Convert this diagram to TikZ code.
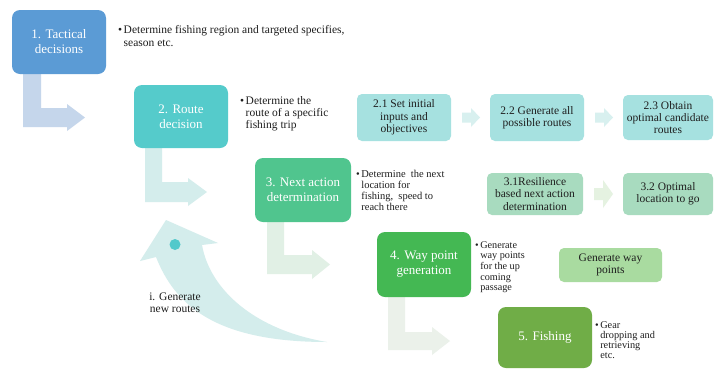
\documentclass[tikz,border=0pt]{standalone}
\usepackage{fontspec}
\setmainfont{Liberation Serif}
\definecolor{cA}{HTML}{5B9BD5}
\definecolor{arA}{HTML}{C5D6EB}
\definecolor{cB}{HTML}{55CBCB}
\definecolor{subB}{HTML}{A6E1E0}
\definecolor{arB}{HTML}{D4EDEC}
\definecolor{arBs}{HTML}{D8F0EF}
\definecolor{cC}{HTML}{50C58E}
\definecolor{subC}{HTML}{A8DBBF}
\definecolor{arC}{HTML}{E1F0E5}
\definecolor{arCs}{HTML}{E5F2E1}
\definecolor{cD}{HTML}{44B853}
\definecolor{subD}{HTML}{A9DBA0}
\definecolor{arD}{HTML}{EBF1EA}
\definecolor{cE}{HTML}{70AD47}
\definecolor{dotc}{HTML}{52C9CB}
\definecolor{txt}{HTML}{1E1E1E}
\newcommand{\bl}[1]{\begin{tabular}[t]{@{}l@{\hspace{1.5pt}}l@{}}#1\end{tabular}}
\begin{document}
\begin{tikzpicture}[x=1pt,y=-1pt,
  mainbox/.style={rounded corners=8pt, text=white, align=center, inner sep=0pt, font=\fontsize{13}{15}\selectfont},
  subbox/.style={rounded corners=5pt, text=txt, align=center, inner sep=0pt, font=\fontsize{11.5}{12.3}\selectfont},
  note/.style={anchor=base west, inner sep=0pt, text=txt},
]
\useasboundingbox (0,0) rectangle (714,370);
\fill[white] (0,0) rectangle (714,370);

% bent block arrows
\fill[arA] (23,73) -- (41,73) -- (41,108) -- (67,108) -- (67,104) -- (85,117.5) -- (67,131) -- (67,127) -- (23,127) -- cycle;
\fill[arB] (145,147) -- (162,147) -- (162,182) -- (188,182) -- (188,178) -- (207,192) -- (188,206) -- (188,202) -- (145,202) -- cycle;
\fill[arC] (267,221) -- (284,221) -- (284,255) -- (312,255) -- (312,250) -- (330,264.5) -- (312,279) -- (312,274) -- (267,274) -- cycle;
\fill[arD] (388,296) -- (405,296) -- (405,332) -- (432,332) -- (432,327) -- (450,341) -- (432,355) -- (432,350) -- (388,350) -- cycle;

% small right arrows
\fill[arBs] (462,112.5) -- (471,112.5) -- (471,108) -- (480,117.5) -- (471,127) -- (471,122.5) -- (462,122.5) -- cycle;
\fill[arBs] (595,112.5) -- (604,112.5) -- (604,108) -- (613,117.5) -- (604,127) -- (604,122.5) -- (595,122.5) -- cycle;
\fill[arCs] (594,188) -- (603,188) -- (603,180) -- (613,194) -- (603,208) -- (603,200) -- (594,200) -- cycle;

% curved feedback arrow
\fill[arB] (166,220) -- (218,243) -- (202,245) .. controls (210,290) and (255,330) .. (327,342)
  .. controls (215,342) and (175,305) .. (156,257) -- (140,261) -- cycle;
\fill[dotc] (175,244.5) circle (5.5);
\node[inner sep=0pt, align=center, text=txt, font=\fontsize{11.5}{12}\selectfont, anchor=base] (lab) at (175,312) {i. Generate\\new routes};

% main boxes
\node[mainbox, fill=cA, minimum width=94pt, minimum height=64pt] (b1) at (59,42) {1. Tactical\\decisions};
\node[mainbox, fill=cB, minimum width=94pt, minimum height=63pt] (b2) at (181,116.5) {2. Route\\decision};
\node[mainbox, fill=cC, minimum width=96pt, minimum height=64pt] (b3) at (303,190) {3. Next action\\determination};
\node[mainbox, fill=cD, minimum width=94pt, minimum height=65pt] (b4) at (424,264.5) {4. Way point\\generation};
\node[mainbox, fill=cE, minimum width=94pt, minimum height=61pt] (b5) at (545,337.5) {5. Fishing};

% sub boxes
\node[subbox, fill=subB, minimum width=94pt, minimum height=47pt] (s21) at (404,117.5) {2.1 Set initial\\inputs and\\objectives};
\node[subbox, fill=subB, minimum width=94pt, minimum height=47pt] (s22) at (537,117.5) {2.2 Generate all\\possible routes};
\node[subbox, fill=subB, minimum width=90pt, minimum height=45pt] (s23) at (668,117.5) {2.3 Obtain\\optimal candidate\\routes};
\node[subbox, fill=subC, minimum width=96pt, minimum height=42pt] (s31) at (535,194) {3.1Resilience\\based next action\\determination};
\node[subbox, fill=subC, minimum width=90pt, minimum height=42pt] (s32) at (668,194) {3.2 Optimal\\location to go};
\node[subbox, fill=subD, minimum width=103pt, minimum height=34pt] (s4) at (610.5,265) {Generate way\\points};

% notes
\node[note, font=\fontsize{11.5}{13}\selectfont] (n1) at (118,33) {\bl{\textbullet & Determine fishing region and targeted specifies,\\ & season etc.}};
\node[note, font=\fontsize{11.5}{12}\selectfont] (n2) at (240,104) {\bl{\textbullet & Determine the\\ & route of a specific\\ & fishing trip}};
\node[note, font=\fontsize{10.5}{11.3}\selectfont] (n3) at (356,177) {\bl{\textbullet & Determine\ \ the next\\ & location for\\ & fishing,\ \ speed to\\ & reach there}};
\node[note, font=\fontsize{10.2}{10.7}\selectfont] (n4) at (475,248) {\bl{\textbullet & Generate\\ & way points\\ & for the up\\ & coming\\ & passage}};
\node[note, font=\fontsize{10.3}{10.3}\selectfont] (n5) at (595,328) {\bl{\textbullet & Gear\\ & dropping and\\ & retrieving\\ & etc.}};
\end{tikzpicture}
\end{document}
